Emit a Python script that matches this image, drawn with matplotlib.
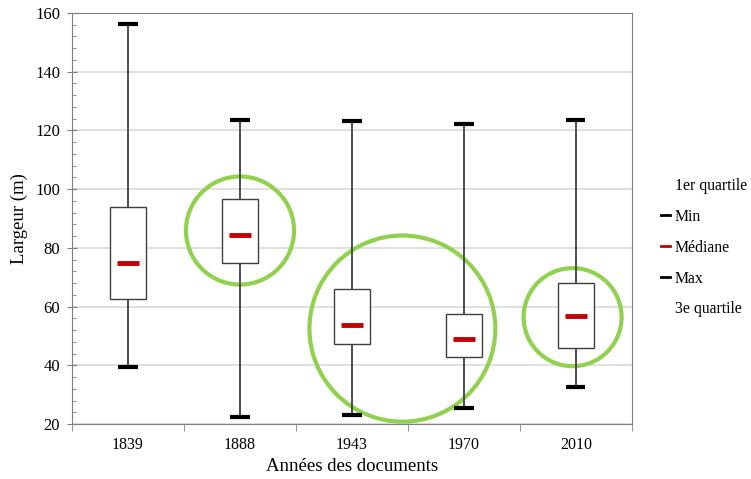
import numpy as np
import matplotlib
matplotlib.use("Agg")
import matplotlib.pyplot as plt
from matplotlib.lines import Line2D
from matplotlib.patches import Ellipse

plt.rcParams['font.family'] = ['Liberation Serif', 'DejaVu Serif']

annees = ["1839", "1888", "1943", "1970", "2010"]
mins = [39.3, 22.3, 23.2, 25.6, 32.7]
q1 = [62.5, 74.9, 47.1, 42.8, 45.9]
medianes = [74.9, 84.4, 53.7, 49.0, 56.9]
q3 = [94.0, 96.5, 66.0, 57.5, 67.9]
maxs = [156.3, 123.6, 123.3, 122.2, 123.6]

# cercles verts (centre x en categories, centre y en m, largeur, hauteur)
cercles_x = [1.0, 2.45, 3.97]
cercles_y = [85.9, 52.5, 56.4]
cercles_w = [0.965, 1.66, 0.875]
cercles_h = [36.8, 63.4, 33.4]

fig = plt.figure(figsize=(7.51, 4.79), dpi=100)
ax = fig.add_axes([0.0959, 0.1148, 0.7456, 0.8581])

x = np.arange(len(annees))
ax.vlines(x, mins, maxs, color='#404040', lw=1.3, zorder=3)
ax.bar(x, np.array(q3) - np.array(q1), bottom=q1, width=0.32,
       color='white', edgecolor='#404040', lw=1.0, zorder=4)
ax.hlines(mins, x - 0.085, x + 0.085, color='black', lw=3, zorder=5)
ax.hlines(maxs, x - 0.085, x + 0.085, color='black', lw=3, zorder=5)
ax.hlines(medianes, x - 0.095, x + 0.095, color='#C00000', lw=3.5, zorder=6)

for cx, cy, w, h in zip(cercles_x, cercles_y, cercles_w, cercles_h):
    ax.add_patch(Ellipse((cx, cy), w, h, fill=False, edgecolor='#92D050',
                         lw=3.0, zorder=2, clip_on=False))

ax.set_xlim(-0.5, 4.5)
ax.set_ylim(20, 160)
ax.set_yticks(np.arange(20, 161, 20))
ax.set_yticks(np.arange(20, 161, 4), minor=True)
ax.set_xticks(x)
ax.set_xticklabels(annees)
ax.set_xticks(np.arange(-0.5, 4.6, 1), minor=True)
ax.grid(axis='y', color='#D9D9D9', lw=1.2, zorder=0)
ax.set_axisbelow(True)

ax.tick_params(axis='x', which='major', length=0, labelsize=11.5, pad=9)
ax.tick_params(axis='x', which='minor', length=5, direction='out', color='#808080')
ax.tick_params(axis='y', which='major', length=7, direction='inout', color='#808080',
               labelsize=12, pad=5)
ax.tick_params(axis='y', which='minor', length=3, direction='in', color='#808080')
for s in ax.spines.values():
    s.set_color('#808080')

ax.set_ylabel("Largeur (m)", fontsize=13.5, labelpad=5)
ax.set_xlabel("Années des documents", fontsize=13.5, labelpad=4)

handles = [Line2D([], [], color='none'),
           Line2D([], [], color='black', lw=2),
           Line2D([], [], color='#C00000', lw=2),
           Line2D([], [], color='black', lw=2),
           Line2D([], [], color='none')]
labels = ["1er quartile", "Min", "Médiane", "Max", "3e quartile"]
fig.legend(handles, labels, loc='center left', bbox_to_anchor=(0.861, 0.483),
           frameon=False, handlelength=0.6, handletextpad=0.3,
           labelspacing=0.95, fontsize=11.3)

fig.savefig("out.png", dpi=100)
